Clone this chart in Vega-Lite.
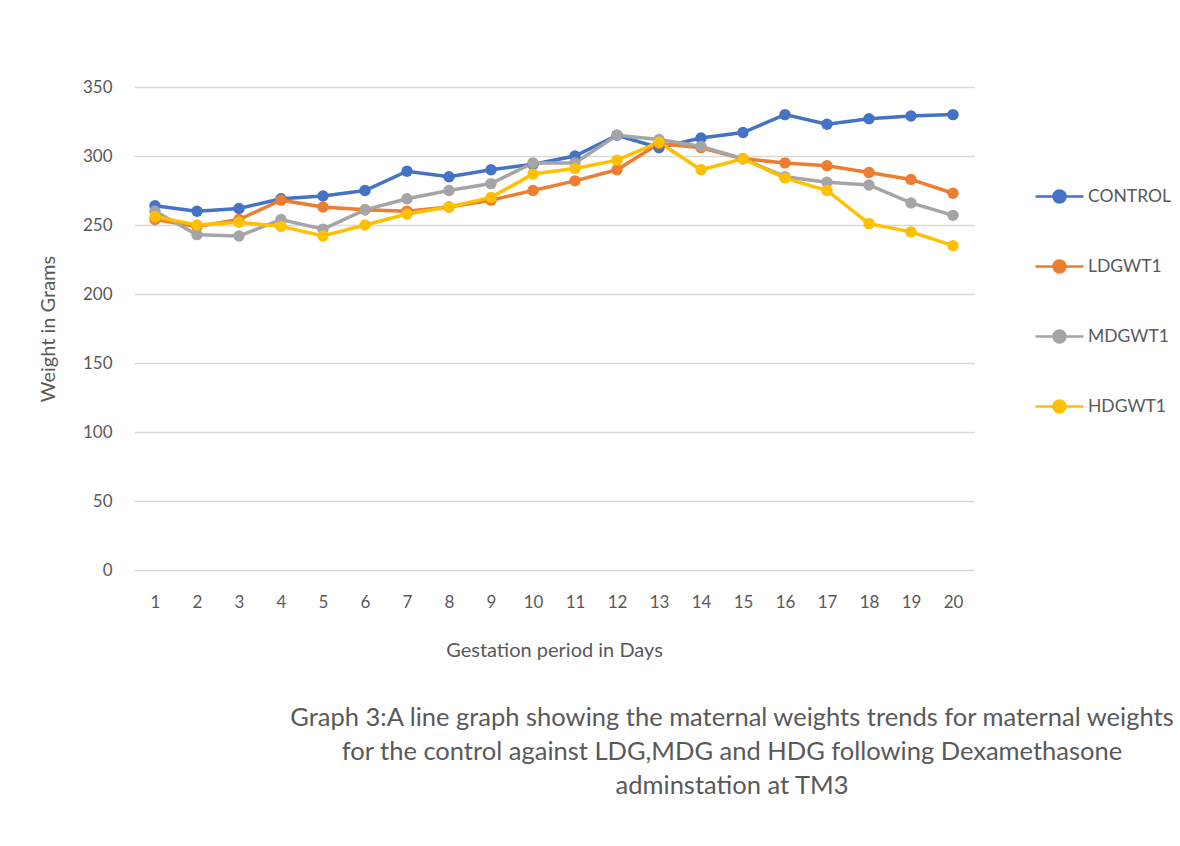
{
  "$schema": "https://vega.github.io/schema/vega-lite/v6.json",
  "autosize": "none",
  "width": 840,
  "height": 483,
  "padding": {"left": 134, "top": 87, "right": 206, "bottom": 276},
  "background": "white",
  "config": {
    "font": "Lato",
    "view": {"stroke": null},
    "axis": {"labelColor": "#595959", "titleColor": "#595959", "labelFont": "Lato", "titleFont": "Lato", "titleFontWeight": "normal"}
  },
  "title": {
    "text": ["Graph 3:A line graph showing  the maternal weights trends for maternal weights", "for the control against LDG,MDG and HDG following Dexamethasone", "adminstation at TM3"],
    "orient": "bottom",
    "anchor": "middle",
    "dx": 178,
    "offset": 46,
    "fontSize": 25.5,
    "fontWeight": "normal",
    "color": "#595959",
    "font": "Lato",
    "lineHeight": 34
  },
  "data": {
    "values": [
      {"day": 1, "series": "CONTROL", "weight": 264}, {"day": 2, "series": "CONTROL", "weight": 260}, {"day": 3, "series": "CONTROL", "weight": 262}, {"day": 4, "series": "CONTROL", "weight": 269}, {"day": 5, "series": "CONTROL", "weight": 271}, {"day": 6, "series": "CONTROL", "weight": 275}, {"day": 7, "series": "CONTROL", "weight": 289}, {"day": 8, "series": "CONTROL", "weight": 285}, {"day": 9, "series": "CONTROL", "weight": 290}, {"day": 10, "series": "CONTROL", "weight": 294}, {"day": 11, "series": "CONTROL", "weight": 300}, {"day": 12, "series": "CONTROL", "weight": 315}, {"day": 13, "series": "CONTROL", "weight": 306}, {"day": 14, "series": "CONTROL", "weight": 313}, {"day": 15, "series": "CONTROL", "weight": 317}, {"day": 16, "series": "CONTROL", "weight": 330}, {"day": 17, "series": "CONTROL", "weight": 323}, {"day": 18, "series": "CONTROL", "weight": 327}, {"day": 19, "series": "CONTROL", "weight": 329}, {"day": 20, "series": "CONTROL", "weight": 330},
      {"day": 1, "series": "LDGWT1", "weight": 254}, {"day": 2, "series": "LDGWT1", "weight": 249}, {"day": 3, "series": "LDGWT1", "weight": 254}, {"day": 4, "series": "LDGWT1", "weight": 268}, {"day": 5, "series": "LDGWT1", "weight": 263}, {"day": 6, "series": "LDGWT1", "weight": 261}, {"day": 7, "series": "LDGWT1", "weight": 260}, {"day": 8, "series": "LDGWT1", "weight": 263}, {"day": 9, "series": "LDGWT1", "weight": 268}, {"day": 10, "series": "LDGWT1", "weight": 275}, {"day": 11, "series": "LDGWT1", "weight": 282}, {"day": 12, "series": "LDGWT1", "weight": 290}, {"day": 13, "series": "LDGWT1", "weight": 309}, {"day": 14, "series": "LDGWT1", "weight": 306}, {"day": 15, "series": "LDGWT1", "weight": 298}, {"day": 16, "series": "LDGWT1", "weight": 295}, {"day": 17, "series": "LDGWT1", "weight": 293}, {"day": 18, "series": "LDGWT1", "weight": 288}, {"day": 19, "series": "LDGWT1", "weight": 283}, {"day": 20, "series": "LDGWT1", "weight": 273},
      {"day": 1, "series": "MDGWT1", "weight": 260}, {"day": 2, "series": "MDGWT1", "weight": 243}, {"day": 3, "series": "MDGWT1", "weight": 242}, {"day": 4, "series": "MDGWT1", "weight": 254}, {"day": 5, "series": "MDGWT1", "weight": 247}, {"day": 6, "series": "MDGWT1", "weight": 261}, {"day": 7, "series": "MDGWT1", "weight": 269}, {"day": 8, "series": "MDGWT1", "weight": 275}, {"day": 9, "series": "MDGWT1", "weight": 280}, {"day": 10, "series": "MDGWT1", "weight": 295}, {"day": 11, "series": "MDGWT1", "weight": 295}, {"day": 12, "series": "MDGWT1", "weight": 315}, {"day": 13, "series": "MDGWT1", "weight": 312}, {"day": 14, "series": "MDGWT1", "weight": 307}, {"day": 15, "series": "MDGWT1", "weight": 298}, {"day": 16, "series": "MDGWT1", "weight": 285}, {"day": 17, "series": "MDGWT1", "weight": 281}, {"day": 18, "series": "MDGWT1", "weight": 279}, {"day": 19, "series": "MDGWT1", "weight": 266}, {"day": 20, "series": "MDGWT1", "weight": 257},
      {"day": 1, "series": "HDGWT1", "weight": 256}, {"day": 2, "series": "HDGWT1", "weight": 250}, {"day": 3, "series": "HDGWT1", "weight": 252}, {"day": 4, "series": "HDGWT1", "weight": 249}, {"day": 5, "series": "HDGWT1", "weight": 242}, {"day": 6, "series": "HDGWT1", "weight": 250}, {"day": 7, "series": "HDGWT1", "weight": 258}, {"day": 8, "series": "HDGWT1", "weight": 263}, {"day": 9, "series": "HDGWT1", "weight": 270}, {"day": 10, "series": "HDGWT1", "weight": 287}, {"day": 11, "series": "HDGWT1", "weight": 291}, {"day": 12, "series": "HDGWT1", "weight": 297}, {"day": 13, "series": "HDGWT1", "weight": 310}, {"day": 14, "series": "HDGWT1", "weight": 290}, {"day": 15, "series": "HDGWT1", "weight": 298}, {"day": 16, "series": "HDGWT1", "weight": 284}, {"day": 17, "series": "HDGWT1", "weight": 275}, {"day": 18, "series": "HDGWT1", "weight": 251}, {"day": 19, "series": "HDGWT1", "weight": 245}, {"day": 20, "series": "HDGWT1", "weight": 235}
    ]
  },
  "mark": {"type": "line", "strokeWidth": 3.5, "point": {"filled": true, "size": 130}},
  "encoding": {
    "x": {
      "field": "day", "type": "ordinal",
      "scale": {"type": "point", "padding": 0.5},
      "axis": {"title": "Gestation period in Days", "labelAngle": 0, "labelFontSize": 17, "titleFontSize": 20, "labelPadding": 24, "titlePadding": 30, "ticks": false, "domain": false, "grid": false}
    },
    "y": {
      "field": "weight", "type": "quantitative",
      "scale": {"domain": [0, 350], "nice": false},
      "axis": {"title": "Weight in Grams", "values": [0, 50, 100, 150, 200, 250, 300, 350], "labelFontSize": 17, "titleFontSize": 20, "labelPadding": 22, "titlePadding": 24, "ticks": false, "domain": false, "grid": true, "gridColor": "#d9d9d9", "gridWidth": 1.3}
    },
    "color": {
      "field": "series", "type": "nominal",
      "sort": ["CONTROL", "LDGWT1", "MDGWT1", "HDGWT1"],
      "scale": {"domain": ["CONTROL", "LDGWT1", "MDGWT1", "HDGWT1"], "range": ["#4472C4", "#ED7D31", "#A5A5A5", "#FFC000"]},
      "legend": {
        "title": null,
        "orient": "none",
        "legendX": 900,
        "legendY": 84,
        "symbolType": "M-1,0H1M-0.25,0A0.25,0.25,0,1,1,0.25,0A0.25,0.25,0,1,1,-0.25,0Z",
        "symbolSize": 2304,
        "symbolStrokeWidth": 2.5,
        "labelFontSize": 17.5,
        "labelColor": "#595959",
        "labelFont": "Lato",
        "labelOffset": 3,
        "rowPadding": 33,
        "encode": {"symbols": {"update": {"fill": {"scale": "color", "field": "value"}}}}
      }
    }
  }
}
